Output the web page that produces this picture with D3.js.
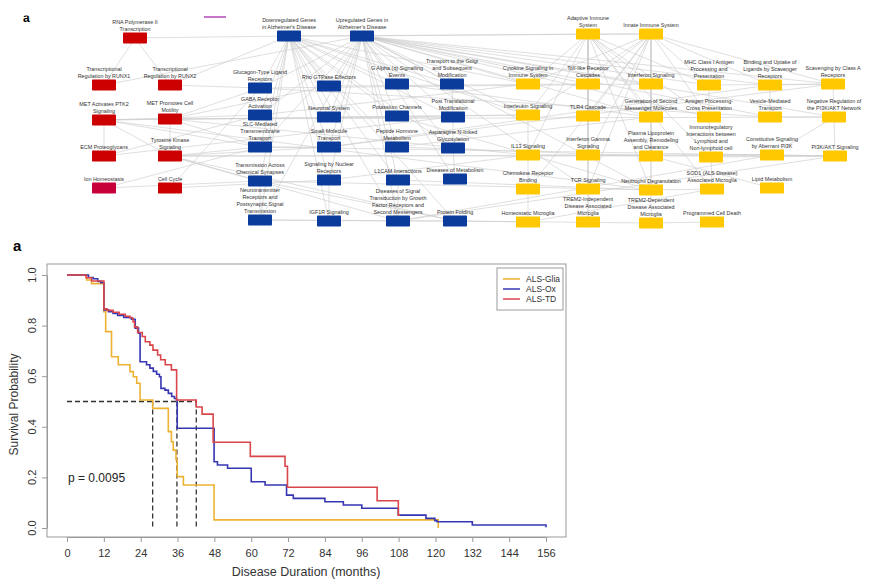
<!DOCTYPE html>
<html>
<head>
<meta charset="utf-8">
<script src="https://cdn.jsdelivr.net/npm/d3@7"></script>
<style>
  body { margin: 0; background: #fff; }
  svg { display: block; font-family: "Liberation Sans", Arial, sans-serif; }
</style>
</head>
<body>
<svg width="881" height="583"></svg>
<script>
// ---------- network (top panel) ----------
const pathwayGroups = ["red", "blue", "yellow"];

const pathways = [
  { id: "rna", g: "red", label: ["RNA Polymerase II", "Transcription"] },
  { id: "runx1", g: "red", label: ["Transcriptional", "Regulation by RUNX1"] },
  { id: "runx2", g: "red", label: ["Transcriptional", "Regulation by RUNX2"] },
  { id: "metp", g: "red", label: ["MET Activates PTK2", "Signaling"] },
  { id: "metm", g: "red", label: ["MET Promotes Cell", "Motility"] },
  { id: "ecm", g: "red", label: ["ECM Proteoglycans"] },
  { id: "tks", g: "red", label: ["Tyrosine Kinase", "Signaling"] },
  { id: "ion", g: "red2", label: ["Ion Homeostasis"] },
  { id: "cc", g: "red", label: ["Cell Cycle"] },

  { id: "down", g: "blue", label: ["Downregulated Genes", "in Alzheimer's Disease"] },
  { id: "up", g: "blue", label: ["Upregulated Genes in", "Alzheimer's Disease"] },
  { id: "gluc", g: "blue", label: ["Glucagon-Type Ligand", "Receptors"] },
  { id: "gaba", g: "blue", label: ["GABA Receptor", "Activation"] },
  { id: "slc", g: "blue", label: ["SLC-Mediated", "Transmembrane", "Transport"] },
  { id: "tacs", g: "blue", label: ["Transmission Across", "Chemical Synapses"] },
  { id: "ntr", g: "blue", label: ["Neurotransmitter", "Receptors and", "Postsynaptic Signal", "Transmission"] },
  { id: "rho", g: "blue", label: ["Rho GTPase Effectors"] },
  { id: "neur", g: "blue", label: ["Neuronal System"] },
  { id: "smt", g: "blue", label: ["Small Molecule", "Transport"] },
  { id: "snr", g: "blue", label: ["Signaling by Nuclear", "Receptors"] },
  { id: "igf", g: "blue", label: ["IGF1R Signaling"] },
  { id: "gaq", g: "blue", label: ["G Alpha (q) Signalling", "Events"] },
  { id: "kch", g: "blue", label: ["Potassium Channels"] },
  { id: "phm", g: "blue", label: ["Peptide Hormone", "Metabolism"] },
  { id: "l1c", g: "blue", label: ["L1CAM Interactions"] },
  { id: "dsgf", g: "blue", label: ["Diseases of Signal", "Transduction by Growth", "Factor Receptors and", "Second Messengers"] },
  { id: "golgi", g: "blue", label: ["Transport to the Golgi", "and Subsequent", "Modification"] },
  { id: "ptm", g: "blue", label: ["Post Translational", "Modification"] },
  { id: "asn", g: "blue", label: ["Asparagine N-linked", "Glycosylation"] },
  { id: "dmet", g: "blue", label: ["Diseases of Metabolism"] },
  { id: "pf", g: "blue", label: ["Protein Folding"] },

  { id: "adapt", g: "yellow", label: ["Adaptive Immune", "System"] },
  { id: "innate", g: "yellow", label: ["Innate Immune System"] },
  { id: "cyto", g: "yellow", label: ["Cytokine Signaling in", "Immune System"] },
  { id: "tlr", g: "yellow", label: ["Toll-like Receptor", "Cascades"] },
  { id: "ifn", g: "yellow", label: ["Interferon Signaling"] },
  { id: "il", g: "yellow", label: ["Interleukin Signaling"] },
  { id: "tlr4", g: "yellow", label: ["TLR4 Cascade"] },
  { id: "gsm", g: "yellow", label: ["Generation of Second", "Messenger Molecules"] },
  { id: "il13", g: "yellow", label: ["IL13 Signaling"] },
  { id: "ifng", g: "yellow", label: ["Interferon Gamma", "Signaling"] },
  { id: "plasma", g: "yellow", label: ["Plasma Lipoprotein", "Assembly, Remodeling", "and Clearance"] },
  { id: "chemo", g: "yellow", label: ["Chemokine Receptor", "Binding"] },
  { id: "tcr", g: "yellow", label: ["TCR Signaling"] },
  { id: "neut", g: "yellow", label: ["Neutrophil Degranulation"] },
  { id: "hm", g: "yellow", label: ["Homeostatic Microglia"] },
  { id: "trem2i", g: "yellow", label: ["TREM2-Independent", "Disease Associated", "Microglia"] },
  { id: "trem2d", g: "yellow", label: ["TREM2-Dependent", "Disease Associated", "Microglia"] },
  { id: "mhc", g: "yellow", label: ["MHC Class I Antigen", "Processing and", "Presentation"] },
  { id: "bind", g: "yellow", label: ["Binding and Uptake of", "Ligands by Scavenger", "Receptors"] },
  { id: "scav", g: "yellow", label: ["Scavenging by Class A", "Receptors"] },
  { id: "apcp", g: "yellow", label: ["Antigen Processing-", "Cross Presentation"] },
  { id: "vmt", g: "yellow", label: ["Vesicle-Mediated", "Transport"] },
  { id: "negpi", g: "yellow", label: ["Negative Regulation of", "the PI3K/AKT Network"] },
  { id: "immuno", g: "yellow", label: ["Immunoregulatory", "Interactions between", "Lymphoid and", "Non-lymphoid cell"] },
  { id: "const", g: "yellow", label: ["Constitutive Signaling", "by Aberrant PI3K"] },
  { id: "pi3k", g: "yellow", label: ["PI3K/AKT Signaling"] },
  { id: "sod1", g: "yellow", label: ["SOD1 (ALS Disease)", "Associated Microglia"] },
  { id: "lipid", g: "yellow", label: ["Lipid Metabolism"] },
  { id: "pcd", g: "yellow", label: ["Programmed Cell Death"] }
];

// layout coordinates of the network (figure units)
const networkLayout = {
  rna: [135, 38], runx1: [104, 85], runx2: [170, 85], metp: [104, 120], metm: [170, 119],
  ecm: [104, 156], tks: [170, 156], ion: [104, 188], cc: [170, 188],
  down: [289, 36], up: [362, 36],
  gluc: [260, 88], gaba: [260, 115], slc: [260, 147], tacs: [260, 181], ntr: [260, 220],
  rho: [329, 86], neur: [329, 117], smt: [329, 147], snr: [329, 180], igf: [329, 221],
  gaq: [397, 84], kch: [397, 116], phm: [397, 147], l1c: [398, 180], dsgf: [398, 221],
  golgi: [452, 84], ptm: [453, 117], asn: [453, 148], dmet: [455, 179], pf: [455, 221],
  adapt: [588, 34], innate: [651, 34],
  cyto: [528, 84], tlr: [588, 84], ifn: [651, 84],
  il: [528, 115], tlr4: [588, 116], gsm: [651, 117],
  il13: [528, 155], ifng: [588, 155], plasma: [651, 156],
  chemo: [528, 189], tcr: [588, 189], neut: [651, 190],
  hm: [528, 222], trem2i: [588, 222], trem2d: [651, 223],
  mhc: [709, 85], bind: [770, 85], scav: [833, 84],
  apcp: [709, 117], vmt: [770, 117], negpi: [834, 117],
  immuno: [711, 157], const: [772, 155], pi3k: [835, 156],
  sod1: [712, 189], lipid: [772, 188], pcd: [712, 222]
};

const links = [
  ["rna","runx1"],["rna","runx2"],["rna","down"],["runx1","up"],["runx2","down"],["runx2","gluc"],
  ["metp","ecm"],["metp","metm"],["metm","tks"],["metp","tks"],["metp","gaba"],["metp","neut"],
  ["metp","il"],["metp","slc"],["metm","slc"],["metm","ptm"],["metm","negpi"],["metm","rho"],
  ["metm","gluc"],["metm","il13"],["tks","dsgf"],["tks","pf"],["tks","pi3k"],["tks","const"],
  ["tks","slc"],["tks","smt"],["ecm","ptm"],["ecm","gaba"],["ion","tacs"],["ion","slc"],
  ["cc","gluc"],["cc","snr"],["tks","tacs"],
  ["down","up"],["up","adapt"],["down","innate"],
  ["down","gluc"],["down","gaba"],["down","slc"],["down","tacs"],["down","ntr"],["down","rho"],
  ["down","neur"],["down","smt"],["down","snr"],["down","igf"],["down","gaq"],["down","kch"],
  ["down","phm"],["down","l1c"],["down","dsgf"],["down","golgi"],["down","ptm"],["down","asn"],
  ["down","pf"],["down","cyto"],["down","il"],
  ["up","gluc"],["up","gaba"],["up","slc"],["up","ntr"],["up","rho"],["up","neur"],["up","smt"],
  ["up","snr"],["up","gaq"],["up","kch"],["up","phm"],["up","golgi"],["up","ptm"],["up","asn"],
  ["up","l1c"],["up","dsgf"],["up","cyto"],["up","tlr"],["up","il"],["up","ifn"],["up","gsm"],
  ["up","mhc"],["up","bind"],["up","scav"],["up","vmt"],["up","negpi"],["up","apcp"],["up","neut"],
  ["up","tcr"],["up","dmet"],
  ["adapt","cyto"],["adapt","tlr"],["adapt","ifn"],["adapt","il"],["adapt","tlr4"],["adapt","gsm"],
  ["adapt","il13"],["adapt","ifng"],["adapt","tcr"],["adapt","neut"],["adapt","trem2i"],["adapt","mhc"],
  ["adapt","apcp"],["adapt","immuno"],["adapt","sod1"],["adapt","innate"],
  ["innate","cyto"],["innate","tlr"],["innate","ifn"],["innate","tlr4"],["innate","gsm"],["innate","il"],
  ["innate","neut"],["innate","chemo"],["innate","plasma"],["innate","mhc"],["innate","apcp"],
  ["innate","bind"],["innate","scav"],["innate","tcr"],["innate","ifng"],
  ["tlr","tlr4"],["tlr4","ifng"],["ifng","tcr"],["tcr","trem2i"],
  ["il","il13"],["il13","chemo"],["chemo","hm"],
  ["ifn","gsm"],["gsm","plasma"],["plasma","neut"],["neut","trem2d"],
  ["negpi","pi3k"],["mhc","apcp"],["bind","vmt"],["scav","bind"],["scav","negpi"],["scav","mhc"],
  ["const","pi3k"],["const","negpi"],["const","il13"],["sod1","neut"],["sod1","hm"],["pcd","trem2d"],
  ["pf","hm"],["dsgf","pf"],["dsgf","pi3k"],["l1c","dsgf"],["asn","dmet"],["ptm","asn"],
  ["golgi","ptm"],["gluc","vmt"],["gaba","cyto"],["slc","pi3k"],["smt","bind"],["smt","scav"],
  ["phm","gsm"],["kch","neut"],["neur","il"],["tacs","pf"],["ntr","dsgf"],["snr","il13"],
  ["gluc","ifn"],["rho","tlr"],["gaq","gsm"],["phm","plasma"],["l1c","neut"],["pf","trem2d"],
  ["immuno","sod1"],["immuno","apcp"],["immuno","pi3k"],["vmt","negpi"],["lipid","plasma"],
  ["ntr","tacs"],["slc","smt"],["igf","snr"],["dsgf","const"],["tacs","neut"],["ntr","pf"]
];

// ---------- survival (bottom panel) ----------
const monthTicks = [0, 12, 24, 36, 48, 60, 72, 84, 96, 108, 120, 132, 144, 156];
const probTicks = [0.0, 0.2, 0.4, 0.6, 0.8, 1.0];
const strata = ["ALS-Glia", "ALS-Ox", "ALS-TD"];

const survGlia = [
  [0,1],[6.4,0.98],[8,0.966],[12,0.855],[12.6,0.776],[14.5,0.677],[16.7,0.645],[20.5,0.618],
  [21.6,0.598],[22.7,0.572],[23.8,0.506],[27.9,0.473],[33,0.381],[34,0.341],[34.6,0.308],
  [35.5,0.27],[35.9,0.203],[37.9,0.17],[47.9,0.032],[120.9,0.0]
];
const survOx = [
  [0,1],[7,0.99],[8.5,0.985],[10,0.975],[11,0.97],[12,0.862],[13.5,0.855],[15,0.848],
  [16.5,0.84],[18.5,0.832],[21,0.825],[22.2,0.79],[23.3,0.77],[23.8,0.657],[25.9,0.645],
  [27,0.632],[28.1,0.619],[29.2,0.608],[30.1,0.598],[30.6,0.552],[31.9,0.545],[33,0.532],
  [34.1,0.52],[35,0.512],[35.7,0.506],[35.9,0.394],[47.9,0.262],[49,0.249],[52.3,0.236],
  [60,0.183],[64.5,0.17],[71.5,0.13],[73.7,0.117],[84,0.104],[90,0.091],[96,0.078],
  [107.9,0.051],[116.9,0.038],[119.8,0.029],[120.5,0.025],[132,0.012],[156,0.003]
];
const survTD = [
  [0,1],[6.2,0.989],[8,0.976],[12,0.866],[13,0.86],[15,0.853],[17,0.845],[19,0.837],
  [20.5,0.83],[21.5,0.815],[22,0.795],[23,0.773],[24.5,0.757],[25.5,0.736],[27,0.723],
  [28,0.703],[29.5,0.684],[30.5,0.665],[32,0.645],[34,0.625],[35.7,0.506],[42.1,0.478],
  [44,0.45],[47.6,0.339],[59.7,0.283],[71,0.244],[71.8,0.161],[101,0.108],[107.9,0.051],
  [108.5,0.051]
];
const medianSurvival = [27.9, 35.8, 42.1];
const pValue = "p = 0.0095";

// ================= drawing =================
const svg = d3.select("svg");
svg.append("rect").attr("width", 881).attr("height", 583).attr("fill", "#fff");

const groupColor = { red: "#cc0000", red2: "#c8003a", blue: "#0b3c9c", yellow: "#ffc800" };

// --- top panel ---
const netX = d3.scaleIdentity().domain([0, 881]);
const netY = d3.scaleIdentity().domain([0, 240]);
const pos = id => [netX(networkLayout[id][0]), netY(networkLayout[id][1])];

const net = svg.append("g");

// panel letter (cut at the top as in the figure)
svg.append("clipPath").attr("id", "clipA")
  .append("rect").attr("x", 15).attr("y", 15.5).attr("width", 30).attr("height", 20);
net.append("text")
  .attr("x", 23).attr("y", 22)
  .attr("clip-path", "url(#clipA)")
  .style("font-size", "12px").style("font-weight", 700)
  .text("a");

// small magenta key line
net.append("line")
  .attr("x1", 204).attr("x2", 226).attr("y1", 17).attr("y2", 17)
  .attr("stroke", "#b23cb4").attr("stroke-width", 1.4);

net.append("g")
  .selectAll("line")
  .data(links)
  .join("line")
  .attr("x1", d => pos(d[0])[0]).attr("y1", d => pos(d[0])[1])
  .attr("x2", d => pos(d[1])[0]).attr("y2", d => pos(d[1])[1])
  .attr("stroke", "#c9c9c9")
  .attr("stroke-width", 0.6);

const rw = 24, rh = 11;
const nodeG = net.append("g")
  .selectAll("g")
  .data(pathways)
  .join("g")
  .attr("transform", d => `translate(${pos(d.id)[0]},${pos(d.id)[1]})`);

nodeG.append("rect")
  .attr("x", -rw / 2).attr("y", -rh / 2)
  .attr("width", rw).attr("height", rh)
  .attr("rx", 0.8)
  .attr("fill", d => groupColor[d.g]);

nodeG.each(function (d) {
  const n = d.label.length;
  const t = d3.select(this).append("text")
    .attr("text-anchor", "middle")
    .attr("fill", "#333")
    .style("font-size", "5.4px");
  d.label.forEach((line, i) => {
    t.append("tspan")
      .attr("x", 0)
      .attr("y", -rh / 2 - 1.6 - (n - 1 - i) * 6.9)
      .text(line);
  });
});

// --- bottom panel ---
const box = { left: 47, top: 264, right: 566, bottom: 537 };
const x = d3.scaleLinear().domain([0, 156]).range([67, 546]);
const y = d3.scaleLinear().domain([0, 1]).range([528, 275]);

const km = svg.append("g");

km.append("text")
  .attr("x", 13).attr("y", 251)
  .style("font-size", "15px").style("font-weight", 700)
  .text("a");

km.append("rect")
  .attr("x", box.left).attr("y", box.top)
  .attr("width", box.right - box.left).attr("height", box.bottom - box.top)
  .attr("fill", "none").attr("stroke", "#9a9a9a").attr("stroke-width", 1);

const xAxis = km.append("g")
  .attr("transform", `translate(0,${box.bottom})`)
  .call(d3.axisBottom(x).tickValues(monthTicks).tickSize(5).tickSizeOuter(0).tickPadding(7));
xAxis.select(".domain").attr("stroke", "#9a9a9a");
xAxis.selectAll(".tick line").attr("stroke", "#9a9a9a");
xAxis.selectAll("text")
  .attr("fill", "#333")
  .style("font-size", "11px")
  .style("font-family", "'Liberation Sans', Arial, sans-serif");

const yAxis = km.append("g")
  .attr("transform", `translate(${box.left},0)`)
  .call(d3.axisLeft(y).tickValues(probTicks).tickSize(5).tickSizeOuter(0).tickFormat(""));
yAxis.select(".domain").attr("stroke", "#9a9a9a");
yAxis.selectAll(".tick line").attr("stroke", "#9a9a9a");

km.selectAll("text.ylab")
  .data(probTicks)
  .join("text")
  .attr("class", "ylab")
  .attr("transform", d => `translate(32,${y(d)}) rotate(-90)`)
  .attr("text-anchor", "middle")
  .attr("dy", "0.35em")
  .attr("fill", "#333")
  .style("font-size", "11px")
  .text(d => d3.format(".1f")(d));

km.append("text")
  .attr("transform", `translate(14,${(box.top + box.bottom) / 2 + 4}) rotate(-90)`)
  .attr("text-anchor", "middle")
  .attr("dy", "0.35em")
  .attr("fill", "#333")
  .style("font-size", "12px")
  .text("Survival Probability");

km.append("text")
  .attr("x", 306).attr("y", 576)
  .attr("text-anchor", "middle")
  .attr("fill", "#333")
  .style("font-size", "12.5px")
  .text("Disease Duration (months)");

// median dashed guides
const dash = km.append("g")
  .attr("stroke", "#333").attr("stroke-width", 1.3)
  .attr("stroke-dasharray", "5,3").attr("fill", "none");
dash.append("line")
  .attr("x1", x(0)).attr("x2", x(d3.max(medianSurvival)))
  .attr("y1", y(0.5)).attr("y2", y(0.5));
dash.selectAll("line.v")
  .data(medianSurvival)
  .join("line")
  .attr("class", "v")
  .attr("x1", d => x(d)).attr("x2", d => x(d))
  .attr("y1", y(0.5)).attr("y2", y(0));

const series = [
  { name: strata[0], data: survGlia, color: "#edb232" },
  { name: strata[1], data: survOx, color: "#3636b2" },
  { name: strata[2], data: survTD, color: "#d9474b" }
];

const line = d3.line()
  .x(d => x(d[0]))
  .y(d => y(d[1]))
  .curve(d3.curveStepAfter);

for (const s of series) {
  km.append("path")
    .datum(s.data)
    .attr("fill", "none")
    .attr("stroke", s.color)
    .attr("stroke-width", 1.6)
    .attr("d", line);
}

km.append("text")
  .attr("x", 68).attr("y", 478)
  .attr("dy", "0.35em")
  .attr("fill", "#222")
  .style("font-size", "12px")
  .text(pValue);

// legend
const leg = km.append("g").attr("transform", "translate(497,268)");
leg.append("rect")
  .attr("width", 66).attr("height", 42)
  .attr("fill", "#fff").attr("stroke", "#9a9a9a");
series.forEach((s, i) => {
  const row = leg.append("g").attr("transform", `translate(0,${11 + i * 10})`);
  row.append("line")
    .attr("x1", 6).attr("x2", 23)
    .attr("stroke", s.color).attr("stroke-width", 1.5);
  row.append("text")
    .attr("x", 29).attr("dy", "0.35em")
    .attr("fill", "#333")
    .style("font-size", "8.5px")
    .text(s.name);
});
</script>
</body>
</html>
